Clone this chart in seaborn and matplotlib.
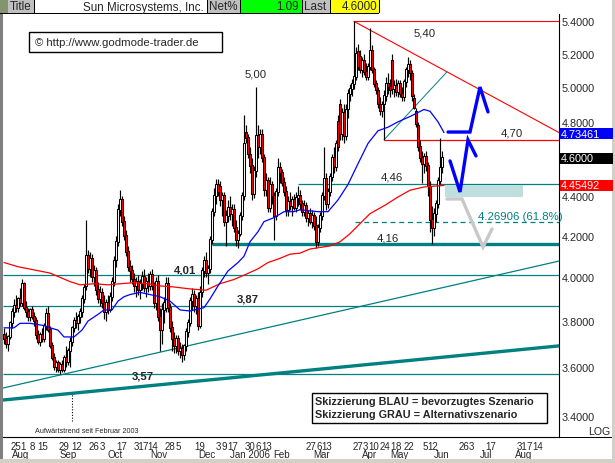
import matplotlib
matplotlib.use("Agg")
import matplotlib.pyplot as plt
import matplotlib.transforms as mtransforms
from matplotlib.patches import Rectangle
import numpy as np
import seaborn as sns

sns.set_style("white")
plt.rcParams['font.family'] = ['Liberation Sans', 'DejaVu Sans']

# daily candles, Sun Microsystems, Jul 2005 - May 2006
opens = [3.74, 3.72, 3.70, 3.73, 3.79, 3.84, 3.87, 3.86, 3.90, 3.88,
         3.97, 3.86, 3.84, 3.82, 3.85, 3.82, 3.80, 3.74, 3.71, 3.74,
         3.72, 3.78, 3.83, 3.76, 3.69, 3.64, 3.60, 3.62, 3.59, 3.61,
         3.59, 3.64, 3.62, 3.67, 3.71, 3.77, 3.80, 3.79, 3.82, 3.84,
         3.90, 3.96, 4.10, 4.04, 4.09, 4.00, 4.03, 3.94, 3.90, 3.93,
         3.88, 3.84, 3.88, 3.85, 3.91, 3.98, 4.08, 4.17, 4.33, 4.38,
         4.27, 4.20, 4.12, 4.05, 4.03, 3.99, 3.96, 3.98, 3.94, 3.97,
         4.00, 3.95, 3.98, 3.96, 4.01, 3.96, 3.88, 3.98, 3.82, 3.76,
         3.85, 3.86, 3.97, 3.86, 3.77, 3.72, 3.69, 3.72, 3.67, 3.68,
         3.65, 3.69, 3.75, 3.79, 3.89, 3.92, 3.87, 3.90, 3.78, 3.93,
         4.03, 4.08, 4.02, 4.04, 4.18, 4.32, 4.40, 4.46, 4.45, 4.38,
         4.40, 4.27, 4.30, 4.34, 4.31, 4.33, 4.24, 4.18, 4.21, 4.30,
         4.40, 4.74, 4.71, 4.62, 4.56, 4.41, 4.53, 4.72, 4.66, 4.73,
         4.60, 4.43, 4.48, 4.34, 4.46, 4.40, 4.30, 4.42, 4.55, 4.52,
         4.47, 4.42, 4.33, 4.37, 4.35, 4.38, 4.34, 4.39, 4.40, 4.36,
         4.32, 4.35, 4.29, 4.31, 4.27, 4.30, 4.25, 4.17, 4.24, 4.30,
         4.40, 4.49, 4.36, 4.42, 4.50, 4.60, 4.55, 4.80, 4.90, 4.73,
         4.85, 4.72, 4.87, 4.96, 4.99, 5.02, 5.06, 5.21, 5.18, 5.10,
         5.16, 5.09, 5.06, 5.12, 5.22, 5.10, 5.02, 4.98, 4.90, 4.86,
         4.90, 4.95, 5.02, 5.00, 5.16, 4.99, 5.01, 4.97, 5.02, 4.96,
         4.94, 5.03, 5.10, 5.13, 5.08, 4.93, 4.86, 4.78, 4.66, 4.60,
         4.57, 4.61, 4.56, 4.45, 4.28, 4.24, 4.31, 4.36, 4.48, 4.55]
highs = [3.77, 3.75, 3.74, 3.80, 3.86, 3.90, 3.92, 3.91, 3.95, 3.99,
         3.98, 3.89, 3.86, 3.86, 3.87, 3.84, 3.82, 3.76, 3.75, 3.77,
         3.79, 3.86, 3.87, 3.78, 3.71, 3.66, 3.63, 3.63, 3.62, 3.63,
         3.65, 3.69, 3.68, 3.73, 3.78, 3.82, 3.84, 3.83, 3.86, 3.92,
         3.97, 4.28, 4.13, 4.12, 4.11, 4.06, 4.05, 3.98, 3.96, 3.95,
         3.92, 3.90, 3.92, 3.93, 4.00, 4.10, 4.20, 4.36, 4.43, 4.40,
         4.30, 4.23, 4.15, 4.08, 4.06, 4.02, 4.00, 4.01, 3.99, 4.03,
         4.04, 4.00, 4.02, 4.03, 4.04, 3.98, 4.00, 4.01, 3.86, 3.88,
         3.91, 4.00, 4.00, 3.88, 3.80, 3.75, 3.74, 3.74, 3.71, 3.70,
         3.70, 3.77, 3.81, 3.91, 3.95, 3.94, 3.92, 3.93, 3.96, 4.05,
         4.10, 4.12, 4.06, 4.20, 4.34, 4.44, 4.49, 4.49, 4.48, 4.42,
         4.42, 4.33, 4.38, 4.40, 4.36, 4.36, 4.28, 4.23, 4.32, 4.42,
         4.84, 4.78, 4.73, 4.66, 4.60, 4.56, 5.00, 4.78, 4.76, 4.76,
         4.62, 4.52, 4.50, 4.50, 4.48, 4.42, 4.44, 4.60, 4.58, 4.54,
         4.50, 4.45, 4.40, 4.42, 4.40, 4.41, 4.42, 4.45, 4.43, 4.38,
         4.38, 4.37, 4.33, 4.34, 4.33, 4.32, 4.30, 4.26, 4.32, 4.42,
         4.66, 4.52, 4.44, 4.52, 4.62, 4.66, 4.70, 4.84, 4.93, 4.88,
         4.90, 4.90, 4.99, 5.02, 5.05, 5.40, 5.24, 5.26, 5.22, 5.18,
         5.20, 5.14, 5.14, 5.36, 5.25, 5.12, 5.04, 5.00, 4.94, 4.92,
         4.98, 5.06, 5.08, 5.05, 5.20, 5.04, 5.05, 5.04, 5.04, 5.00,
         5.05, 5.12, 5.18, 5.16, 5.10, 4.96, 4.88, 4.80, 4.70, 4.64,
         4.63, 4.64, 4.58, 4.48, 4.35, 4.34, 4.38, 4.50, 4.71, 4.64]
lows = [3.70, 3.68, 3.67, 3.72, 3.77, 3.82, 3.84, 3.84, 3.87, 3.87,
        3.85, 3.82, 3.80, 3.80, 3.81, 3.78, 3.72, 3.70, 3.69, 3.71,
        3.71, 3.76, 3.75, 3.68, 3.63, 3.59, 3.58, 3.58, 3.57, 3.58,
        3.58, 3.60, 3.61, 3.60, 3.69, 3.75, 3.77, 3.76, 3.79, 3.82,
        3.88, 3.94, 4.02, 4.00, 3.98, 3.96, 3.92, 3.88, 3.87, 3.86,
        3.81, 3.80, 3.83, 3.84, 3.89, 3.96, 4.05, 4.15, 4.30, 4.25,
        4.18, 4.10, 4.03, 3.98, 3.97, 3.93, 3.91, 3.92, 3.90, 3.94,
        3.93, 3.91, 3.93, 3.94, 3.94, 3.86, 3.85, 3.80, 3.67, 3.70,
        3.79, 3.84, 3.84, 3.75, 3.67, 3.66, 3.66, 3.65, 3.64, 3.62,
        3.63, 3.67, 3.73, 3.78, 3.85, 3.84, 3.83, 3.76, 3.77, 3.91,
        4.00, 4.00, 3.97, 4.02, 4.16, 4.30, 4.36, 4.40, 4.35, 4.30,
        4.25, 4.15, 4.27, 4.28, 4.25, 4.22, 4.15, 4.14, 4.20, 4.28,
        4.38, 4.68, 4.60, 4.52, 4.38, 4.39, 4.50, 4.60, 4.62, 4.58,
        4.40, 4.40, 4.32, 4.32, 4.36, 4.18, 4.28, 4.40, 4.47, 4.45,
        4.40, 4.30, 4.30, 4.33, 4.30, 4.33, 4.32, 4.35, 4.33, 4.30,
        4.30, 4.27, 4.25, 4.26, 4.24, 4.23, 4.14, 4.15, 4.22, 4.28,
        4.38, 4.33, 4.34, 4.40, 4.48, 4.52, 4.53, 4.64, 4.70, 4.70,
        4.68, 4.70, 4.82, 4.92, 4.95, 4.99, 5.04, 5.10, 5.08, 5.06,
        5.07, 5.04, 5.04, 5.10, 5.08, 5.00, 4.96, 4.88, 4.84, 4.83,
        4.70, 4.92, 4.96, 4.94, 4.96, 4.94, 4.95, 4.94, 4.94, 4.92,
        4.92, 5.00, 5.06, 5.04, 4.92, 4.87, 4.77, 4.64, 4.58, 4.47,
        4.52, 4.53, 4.40, 4.22, 4.16, 4.20, 4.27, 4.34, 4.46, 4.52]
closes = [3.72, 3.70, 3.73, 3.79, 3.84, 3.87, 3.86, 3.90, 3.88, 3.97,
          3.86, 3.84, 3.82, 3.85, 3.82, 3.80, 3.74, 3.71, 3.74, 3.72,
          3.78, 3.83, 3.76, 3.69, 3.64, 3.60, 3.62, 3.59, 3.61, 3.59,
          3.64, 3.62, 3.67, 3.71, 3.77, 3.80, 3.79, 3.82, 3.84, 3.90,
          3.95, 4.10, 4.04, 4.09, 4.00, 4.03, 3.94, 3.90, 3.93, 3.88,
          3.84, 3.88, 3.85, 3.91, 3.98, 4.08, 4.17, 4.33, 4.38, 4.27,
          4.20, 4.12, 4.05, 4.03, 3.99, 3.96, 3.98, 3.94, 3.97, 4.00,
          3.95, 3.98, 3.96, 4.01, 3.96, 3.88, 3.98, 3.82, 3.76, 3.85,
          3.88, 3.97, 3.86, 3.77, 3.72, 3.69, 3.72, 3.67, 3.68, 3.65,
          3.69, 3.75, 3.79, 3.89, 3.92, 3.87, 3.90, 3.78, 3.93, 4.03,
          4.08, 4.02, 4.04, 4.18, 4.32, 4.40, 4.46, 4.42, 4.38, 4.40,
          4.27, 4.30, 4.34, 4.31, 4.33, 4.24, 4.18, 4.21, 4.30, 4.40,
          4.68, 4.71, 4.62, 4.56, 4.41, 4.53, 4.72, 4.66, 4.73, 4.60,
          4.43, 4.48, 4.34, 4.46, 4.40, 4.30, 4.42, 4.55, 4.52, 4.47,
          4.42, 4.33, 4.37, 4.35, 4.38, 4.34, 4.39, 4.40, 4.36, 4.32,
          4.35, 4.29, 4.31, 4.27, 4.30, 4.25, 4.17, 4.24, 4.30, 4.40,
          4.49, 4.36, 4.42, 4.50, 4.60, 4.55, 4.68, 4.66, 4.73, 4.85,
          4.72, 4.87, 4.96, 4.99, 5.02, 5.06, 5.20, 5.12, 5.10, 5.16,
          5.09, 5.06, 5.12, 5.22, 5.10, 5.02, 4.98, 4.90, 4.86, 4.90,
          4.95, 5.02, 5.00, 4.98, 4.99, 5.01, 4.97, 5.02, 4.96, 4.94,
          5.03, 5.10, 5.13, 5.08, 4.95, 4.88, 4.79, 4.66, 4.60, 4.57,
          4.61, 4.56, 4.45, 4.28, 4.24, 4.31, 4.36, 4.48, 4.55, 4.60]

# moving averages (blue = 50 day, red = 200 day), sampled along the curves
ma50_day = [0, 5, 8, 13, 20, 23, 27, 30, 32, 35, 39, 42, 47, 50, 54, 57, 60,
            63, 68, 73, 78, 83, 88, 93, 100, 103, 107, 112, 117, 120, 123,
            127, 130, 135, 140, 145, 148, 157, 162, 167, 172, 177, 182, 187,
            192, 197, 203, 210, 213, 217, 220]
ma50 = [3.77, 3.77, 3.79, 3.79, 3.78, 3.77, 3.76, 3.73, 3.73, 3.73, 3.76,
        3.80, 3.83, 3.85, 3.85, 3.89, 3.91, 3.92, 3.93, 3.92, 3.91, 3.89,
        3.85, 3.845, 3.86, 3.90, 3.96, 4.03, 4.07, 4.10, 4.17, 4.22, 4.27,
        4.29, 4.32, 4.32, 4.33, 4.32, 4.32, 4.38, 4.46, 4.57, 4.68, 4.75,
        4.77, 4.80, 4.83, 4.87, 4.86, 4.80, 4.74]
ma200_day = [0, 7, 15, 23, 28, 33, 38, 45, 52, 58, 65, 72, 78, 85, 93, 101,
             108, 115, 120, 127, 132, 138, 143, 148, 153, 163, 168, 173, 178,
             183, 190, 197, 203, 210, 217, 220]
ma200 = [4.07, 4.05, 4.035, 4.02, 4.00, 3.98, 3.965, 3.97, 3.965, 3.97,
         3.975, 3.97, 3.96, 3.955, 3.946, 3.94, 3.97, 3.99, 4.01, 4.04, 4.07,
         4.09, 4.11, 4.115, 4.135, 4.15, 4.17, 4.21, 4.26, 4.31, 4.35, 4.395,
         4.43, 4.447, 4.453, 4.455]

# x axis labels (day row and month row)
day_labels = ['25', '1', '8', '15', '29', '12', '26', '3', '17', '31', '7', '14',
              '28', '5', '19', '3', '9', '17', '30', '6', '13', '27', '6', '13',
              '27', '3', '10', '24', '1', '8', '22', '5', '12', '26', '3', '17',
              '31', '7', '14']
day_pos = [6.1, 9.7, 14.2, 19.2, 29.9, 36.3, 45.1, 49, 59, 67.4, 70.8, 74.4,
           83.2, 87, 97.7, 107.3, 110.3, 114.2, 123.2, 127.2, 131.2, 153.7,
           157.5, 161.2, 177, 180.7, 184.6, 190.6, 194.4, 197.4, 202.6, 210.5,
           214.2, 229.8, 233.5, 243.4, 258.8, 262.6, 266.6]
month_labels = ['Aug', 'Sep', 'Oct', 'Nov', 'Dec', 'Jan 2006', 'Feb', 'Mar',
                'Apr', 'May', 'Jun', 'Jul', 'Aug']
month_pos = [8.5, 32, 55.7, 77.4, 101.3, 123.2, 138.8, 158.8, 183, 197.7,
             218.8, 240.9, 259.7]

# chart levels
resist_hi = 5.40
resist_mid = 4.70
level_446 = 4.46
level_416 = 4.16
fib_618 = 4.26906
level_401 = 4.01
level_387 = 3.87
level_357 = 3.57
last_price = 4.60
last_ma50 = 4.73461
last_ma200 = 4.45492
y_ticks = [3.4, 3.6, 3.8, 4.0, 4.2, 4.4, 4.6, 4.8, 5.0, 5.2, 5.4]

W, H = 615, 464
TEAL = '#008080'
XR = 277.5

fig = plt.figure(figsize=(W / 100, H / 100), dpi=100)
fig.patch.set_facecolor('white')
ax = fig.add_axes([3 / W, 1 - 438 / H, 556 / W, 423 / H])
ax.set_yscale('log')
ax.set_ylim(3.317, 5.447)
ax.set_xlim(-0.5, XR)
ax.set_facecolor('white')

# support / resistance lines
ax.hlines(resist_hi, 175, XR, color='red', lw=0.8, zorder=1)
ax.plot([175, XR], [5.40, 4.74], color='red', lw=0.8, zorder=1)
ax.hlines(resist_mid, 190, XR, color='red', lw=0.9, zorder=1)
ax.plot([190, 221.5], [4.70, 5.09], color=TEAL, lw=0.7, zorder=1)
ax.hlines(level_446, 147, XR, color=TEAL, lw=0.9, zorder=1)
ax.hlines(level_416, 104, XR, color=TEAL, lw=2.4, zorder=1)
ax.hlines(fib_618, 175.5, XR, color=TEAL, lw=0.9, linestyles=(0, (4, 3)), zorder=1)
for lv in [level_401, level_387, level_357]:
    ax.hlines(lv, -0.5, XR, color=TEAL, lw=0.9, zorder=1)
ax.plot([-0.5, XR], [3.513, 4.077], color=TEAL, lw=0.9, zorder=1)
ax.plot([-0.5, XR], [3.464, 3.691], color=TEAL, lw=2.4, zorder=1)
ax.add_patch(Rectangle((220.5, 4.395), 39, 4.458 - 4.395, facecolor='#bfdfdf',
                       edgecolor='none', zorder=1))
ax.plot([34, 34], [3.38, 3.493], color='black', lw=0.8, ls=(0, (1, 1.5)), zorder=1)

# candles
x = np.arange(len(closes))
o = np.array(opens)
c = np.array(closes)
ax.vlines(x, lows, highs, color='black', lw=0.85, zorder=2)
body_col = np.where(c < o, '#ff0000', 'white')
ax.bar(x, np.abs(c - o) + 0.004, bottom=np.minimum(o, c), width=1.45,
       color=body_col, edgecolor='black', linewidth=0.75, zorder=3)

# moving averages
sns.lineplot(x=ma200_day, y=ma200, ax=ax, color='red', lw=0.9, zorder=4)
sns.lineplot(x=ma50_day, y=ma50, ax=ax, color='blue', lw=0.9, zorder=4)

# scenario sketches
ax.plot([221.5, 229, 239.5, 244], [4.385, 4.385, 4.145, 4.233], color='#c8c8c8',
        lw=2.4, zorder=4, solid_joinstyle='miter')
ax.plot([223, 228, 232, 236], [4.585, 4.421, 4.699, 4.612], color='blue', lw=2.4,
        zorder=5, solid_joinstyle='miter')
ax.plot([222, 233, 238, 242], [4.743, 4.743, 5.00, 4.856], color='blue', lw=2.4,
        zorder=5, solid_joinstyle='miter')

# level labels
fs = 8.2
ax.text(210.5, 5.327, '5,40', ha='center', va='center', fontsize=fs)
ax.text(126, 5.077, '5,00', ha='center', va='center', fontsize=fs)
ax.text(254, 4.743, '4,70', ha='center', va='center', fontsize=fs)
ax.text(194, 4.500, '4,46', ha='center', va='center', fontsize=fs)
ax.text(192, 4.189, '4,16', ha='center', va='center', fontsize=fs)
ax.text(237, 4.299, '4.26906 (61.8%)', ha='left', va='center', fontsize=fs,
        color=TEAL)
ax.text(90.5, 4.035, '4,01', ha='center', va='center', fontsize=fs, weight='bold')
ax.text(122, 3.90, '3,87', ha='center', va='center', fontsize=fs, weight='bold')
ax.text(69.5, 3.567, '3,57', ha='center', va='center', fontsize=fs, weight='bold')
ax.text(15.5, 3.343, 'Aufwärtstrend seit Februar 2003', ha='left', va='center',
        fontsize=5.2)

# axes styling
ax.yaxis.tick_right()
ax.set_yticks(y_ticks)
ax.set_yticklabels([f'{v:.4f}' for v in y_ticks])
ax.minorticks_off()
ax.tick_params(axis='y', length=0, pad=2, labelsize=7.8)
ax.set_xticks([])
ax.set_xlabel('')
ax.set_ylabel('')
for s in ['left', 'top']:
    ax.spines[s].set_visible(False)
for s in ['right', 'bottom']:
    ax.spines[s].set_color('black')
    ax.spines[s].set_linewidth(0.8)

# x labels under the plot
tr = mtransforms.blended_transform_factory(ax.transData, fig.transFigure)
for lab, p in zip(day_labels, day_pos):
    ax.text(p, 1 - 447 / H, lab, transform=tr, ha='center', va='center',
            fontsize=7.0, clip_on=False)
for lab, p in zip(month_labels, month_pos):
    ax.text(p, 1 - 455.5 / H, lab, transform=tr, ha='center', va='center',
            fontsize=7.0)

ident = mtransforms.IdentityTransform()


def pixbox(x0, y0, x1, y1, fc, ec='none', lw=0.0, z=1):
    fig.add_artist(Rectangle((x0, H - y1), x1 - x0, y1 - y0, transform=ident,
                             facecolor=fc, edgecolor=ec, lw=lw, zorder=z))


def ptext(px, py, s, **kw):
    fig.text(px / W, 1 - py / H, s, va='center', **kw)


# window frame and header
pixbox(0, 0, 3, H, '#808080')
pixbox(0, 0, W, 1, '#a0a0a0')
pixbox(612, 0, W, H, '#d4d0c8')
pixbox(0, 460, W, H, '#d4d0c8')
pixbox(3, 438, 612, 438.8, 'black')
pixbox(0, 0, 8, 14, '#84946c')
pixbox(8, 0, 34, 14, '#c0c0c0')
pixbox(34, 0, 207, 14, 'white')
pixbox(207, 0, 240, 14, '#c0c0c0')
pixbox(240, 0, 302, 14, '#00ff00')
pixbox(302, 0, 330, 14, '#c0c0c0')
pixbox(330, 0, 379, 14, '#ffff00')
pixbox(0, 14, 379, 15, 'black')
for bx in [33.5, 206.5, 239.5, 301.5, 329.5, 378.5]:
    pixbox(bx, 0, bx + 1, 14, 'black')
hfs = 8.4
ptext(10, 7.5, 'Title', fontsize=hfs)
ptext(204, 7.5, 'Sun Microsystems, Inc.', fontsize=hfs, ha='right')
ptext(209, 7.5, 'Net%', fontsize=hfs)
ptext(299, 7.5, '1.09', fontsize=hfs, ha='right')
ptext(304, 7.5, 'Last', fontsize=hfs)
ptext(377, 7.5, '4.6000', fontsize=hfs, ha='right')

# copyright box
pixbox(29, 33, 222, 53, 'white', ec='black', lw=1.0, z=5)
ptext(35, 43.5, '\u00a9 http://www.godmode-trader.de', fontsize=8.2, zorder=6)

# scenario legend box
pixbox(312, 394, 547, 424, 'white', ec='black', lw=1.0, z=5)
ptext(315, 402.5, 'Skizzierung BLAU = bevorzugtes Szenario', fontsize=7.8,
      weight='bold', zorder=6)
ptext(315, 415.5, 'Skizzierung GRAU = Alternativszenario', fontsize=7.8,
      weight='bold', zorder=6)

# current-value boxes on the price scale
for val, col in [(last_ma50, '#0000ff'), (last_price, 'black'), (last_ma200, '#ff0000')]:
    yd = ax.transData.transform((0, val))[1]
    fig.add_artist(Rectangle((560, yd - 5.5), 53, 11, transform=ident,
                             facecolor=col, edgecolor='none', zorder=5))
    txt = f'{val:.5f}' if val != last_price else f'{val:.4f}'
    fig.text(561 / W, yd / H, txt, color='white', fontsize=7.8, va='center',
             zorder=6)

ptext(599, 432, 'LOG', fontsize=7.6, ha='center')

fig.savefig('out.png', dpi=100)
